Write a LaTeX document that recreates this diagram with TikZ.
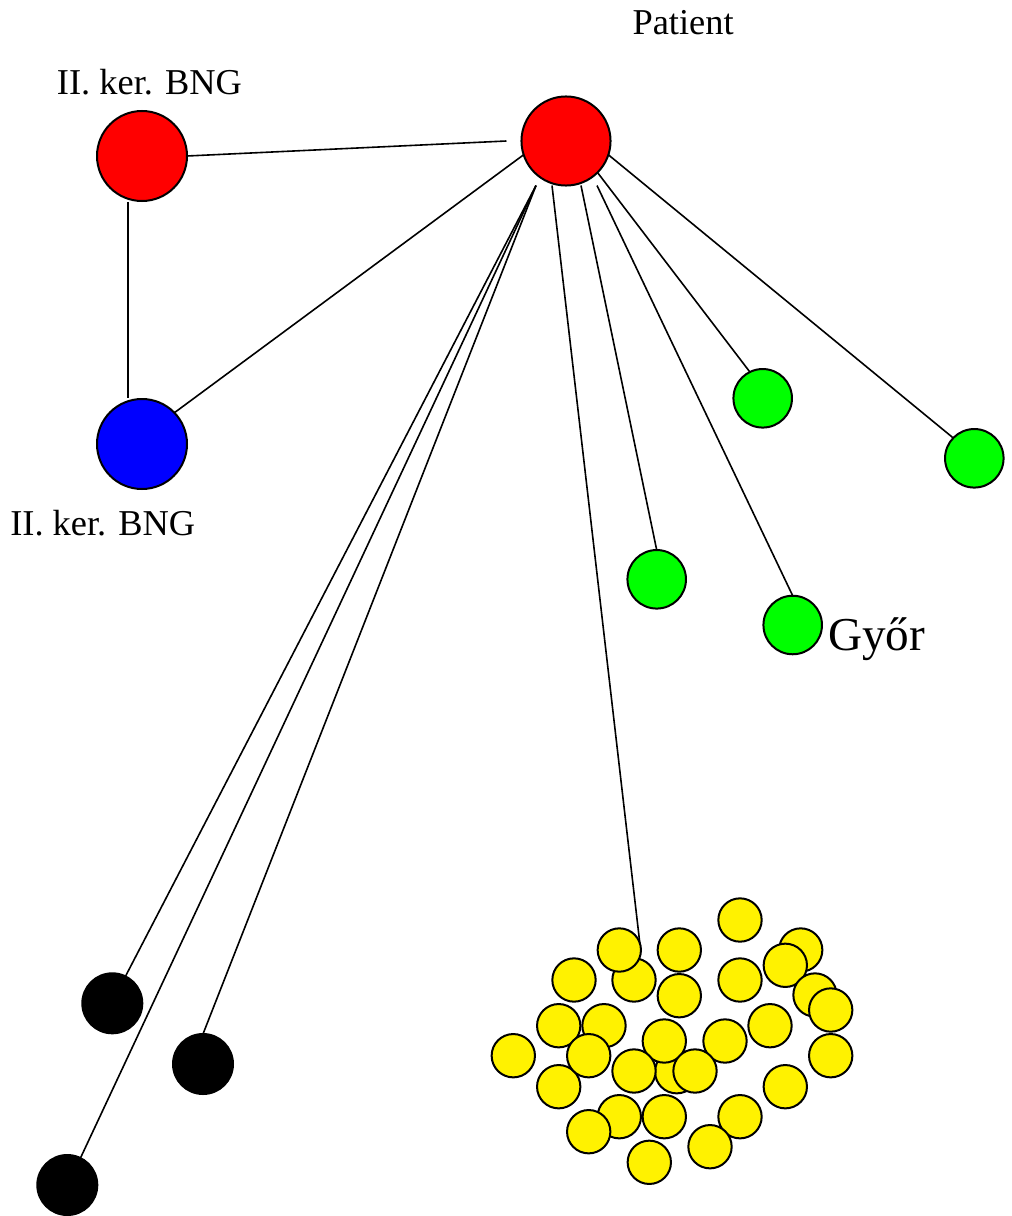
\documentclass[tikz,border=0pt]{standalone}
\usepackage{fontspec}
\setmainfont{Liberation Serif}
\usetikzlibrary{calc}

\tikzset{
  dot/.style={circle, draw=black, line width=1.5pt, inner sep=0pt, outer sep=0pt},
  bignode/.style={dot, minimum size=67.5pt},
  hub/.style={dot, fill=red, minimum size=66.8pt},
  greennode/.style={dot, fill=green, minimum size=43.9pt},
  blacknode/.style={dot, fill=black, minimum size=45pt},
  yellownode/.style={dot, fill=yellow, minimum size=32.5pt},
  label/.style={anchor=base west, inner sep=0pt, font=\fontsize{27.3}{32}\selectfont},
  link/.style={line width=1.2pt},
}

\begin{document}
\begin{tikzpicture}[x=0.75pt, y=-0.75pt]
  \useasboundingbox (0,0) rectangle (1012,1216);

  % main actors
  \node[hub] (patient) at (566,141) {};
  \node[bignode, fill=red] (bngR) at (142,156) {};
  \node[bignode, fill=blue] (bngB) at (142,444) {};

  \node[label] (lpatient) at (632.3,34.3) {Patient};
  \node[label] (lbngR) at (56.7,95) {II. ker. BNG};
  \node[label] (lbngB) at (10,535) {II. ker. BNG};

  % green contacts
  \node[greennode] (g1) at (762.7,398.3) {};
  \node[greennode] (g2) at (974.3,458.3) {};
  \node[greennode] (g3) at (656.7,579.3) {};
  \node[greennode] (g4) at (792.7,625) {};
  \node[anchor=base west, inner sep=0pt, font=\fontsize{35.4}{40}\selectfont] (lgyor) at (828,650) {Győr};

  % black contacts
  \node[blacknode] (k1) at (112.3,1003.3) {};
  \node[blacknode] (k2) at (203,1064) {};
  \node[blacknode] (k3) at (67.3,1185) {};

  % yellow cluster
  \foreach \i/\x/\y in {
    1/740/920, 2/800.7/950, 3/785.3/965.3, 5/634/980, 4/619.3/950,
    6/679.3/950, 7/679.3/995.7, 8/574/980, 9/740/980, 10/815/995,
    11/830.7/1010, 12/558.7/1025.7, 13/604/1025.7, 14/770/1025.7,
    15/513.3/1055.7, 20/558.7/1086.7, 16/588.7/1055.7, 22/676.7/1071.7,
    17/664.3/1041, 18/725/1041, 21/634/1071, 23/695/1071, 19/830.7/1055.7,
    24/785.3/1086.7, 25/619.3/1116.7, 26/664.3/1116.7, 27/740/1116.7,
    28/588.7/1131.7, 29/710/1146.7, 30/649.3/1162.3}
    \node[yellownode] (y\i) at (\x,\y) {};

  % line start points below the hub
  \coordinate (pk) at ($(patient.south)+(-30,0)$);
  \coordinate (py) at ($(patient.south)+(-14,0)$);
  \coordinate (pg3) at ($(patient.south)+(15,0)$);
  \coordinate (pg4) at ($(patient.south)+(31,0)$);
  \coordinate (pw) at ($(patient.west)+(-15,0)$);
  \coordinate (rb) at ($(bngR.south)+(-14,1)$);
  \coordinate (bt) at ($(bngB.north)+(-14,-1)$);

  % connectors
  \draw[link] (bngR.east) -- (pw);
  \draw[line width=2.2pt] (rb) -- (bt);
  \draw[link] (bngB.44) -- (patient.198);
  \draw[link] (pk) -- (k1.64);
  \draw[link] (pk) -- (k2.north);
  \draw[link] (pk) -- (k3.64);
  \draw[link] (py) -- (y4.19);
  \draw[link] (pg3) -- (g3.north);
  \draw[link] (pg4) -- (g4.north);
  \draw[link] (patient.-45) -- (g1.116);
  \draw[link] (patient.-18) -- (g2.136);
\end{tikzpicture}
\end{document}
